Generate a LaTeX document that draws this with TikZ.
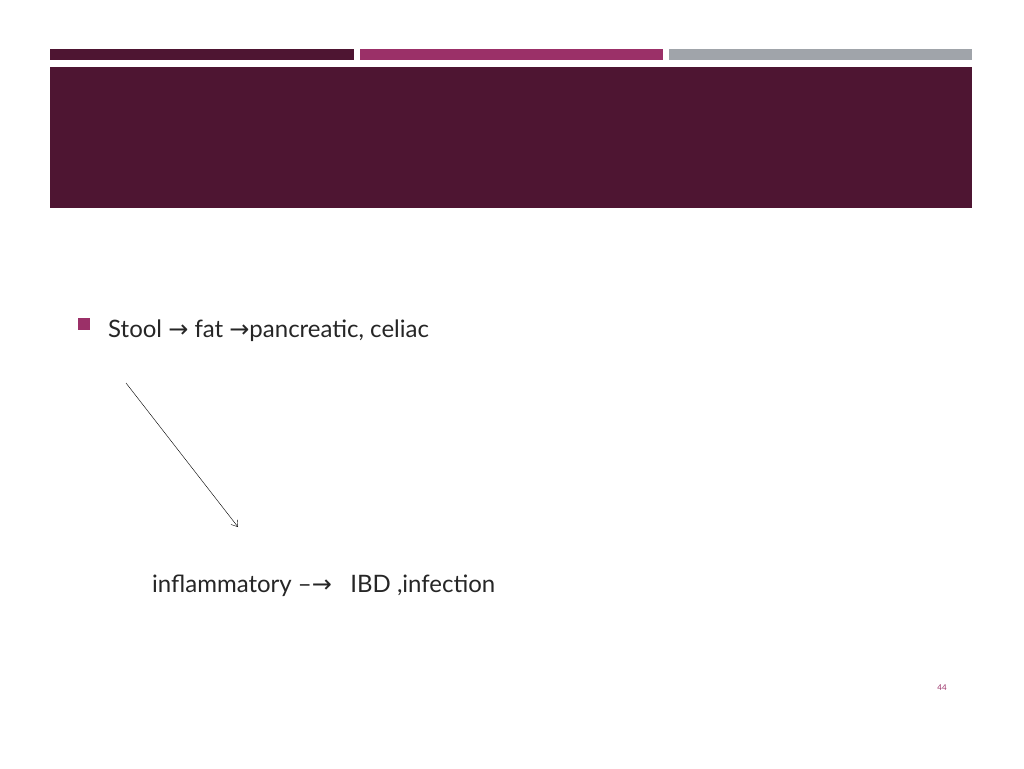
\documentclass[tikz,border=0pt]{standalone}
\usepackage{fontspec}
\setmainfont{Lato}
\newfontfamily\arr{DejaVu Sans}
\definecolor{dark}{HTML}{4E1532}
\definecolor{mag}{HTML}{9B3068}
\definecolor{gry}{HTML}{A0A4AA}
\usetikzlibrary{arrows.meta}
\tikzset{txt/.style={anchor=base west,inner sep=0pt,font=\fontsize{24}{28}\selectfont,text=black!85}}
\begin{document}
\begin{tikzpicture}[x=1pt,y=-1pt]
\useasboundingbox[fill=white] (0,0) rectangle (1024,768);
\fill[dark] (50,49) rectangle (354,60);
\fill[mag] (360,49) rectangle (663,60);
\fill[gry] (669,49) rectangle (972,60);
\fill[dark] (50,67) rectangle (972,208);
\fill[mag] (78,318) rectangle (90,330);
\node[txt] (l1) at (108,337) {Stool {\arr→} fat {\arr→}pancreatic, celiac};
\node[txt] (l2) at (152,592) {inflammatory --{\arr→} \ \ IBD ,infection};
\coordinate (s) at (126,383);
\coordinate (e) at (238,527);
\draw[-{Straight Barb[length=6pt,width=8pt]},thin] (s) -- (e);
\node[anchor=base,inner sep=0pt,font=\fontsize{8}{10}\selectfont,text=mag] (pg) at (942,690) {44};
\end{tikzpicture}
\end{document}
